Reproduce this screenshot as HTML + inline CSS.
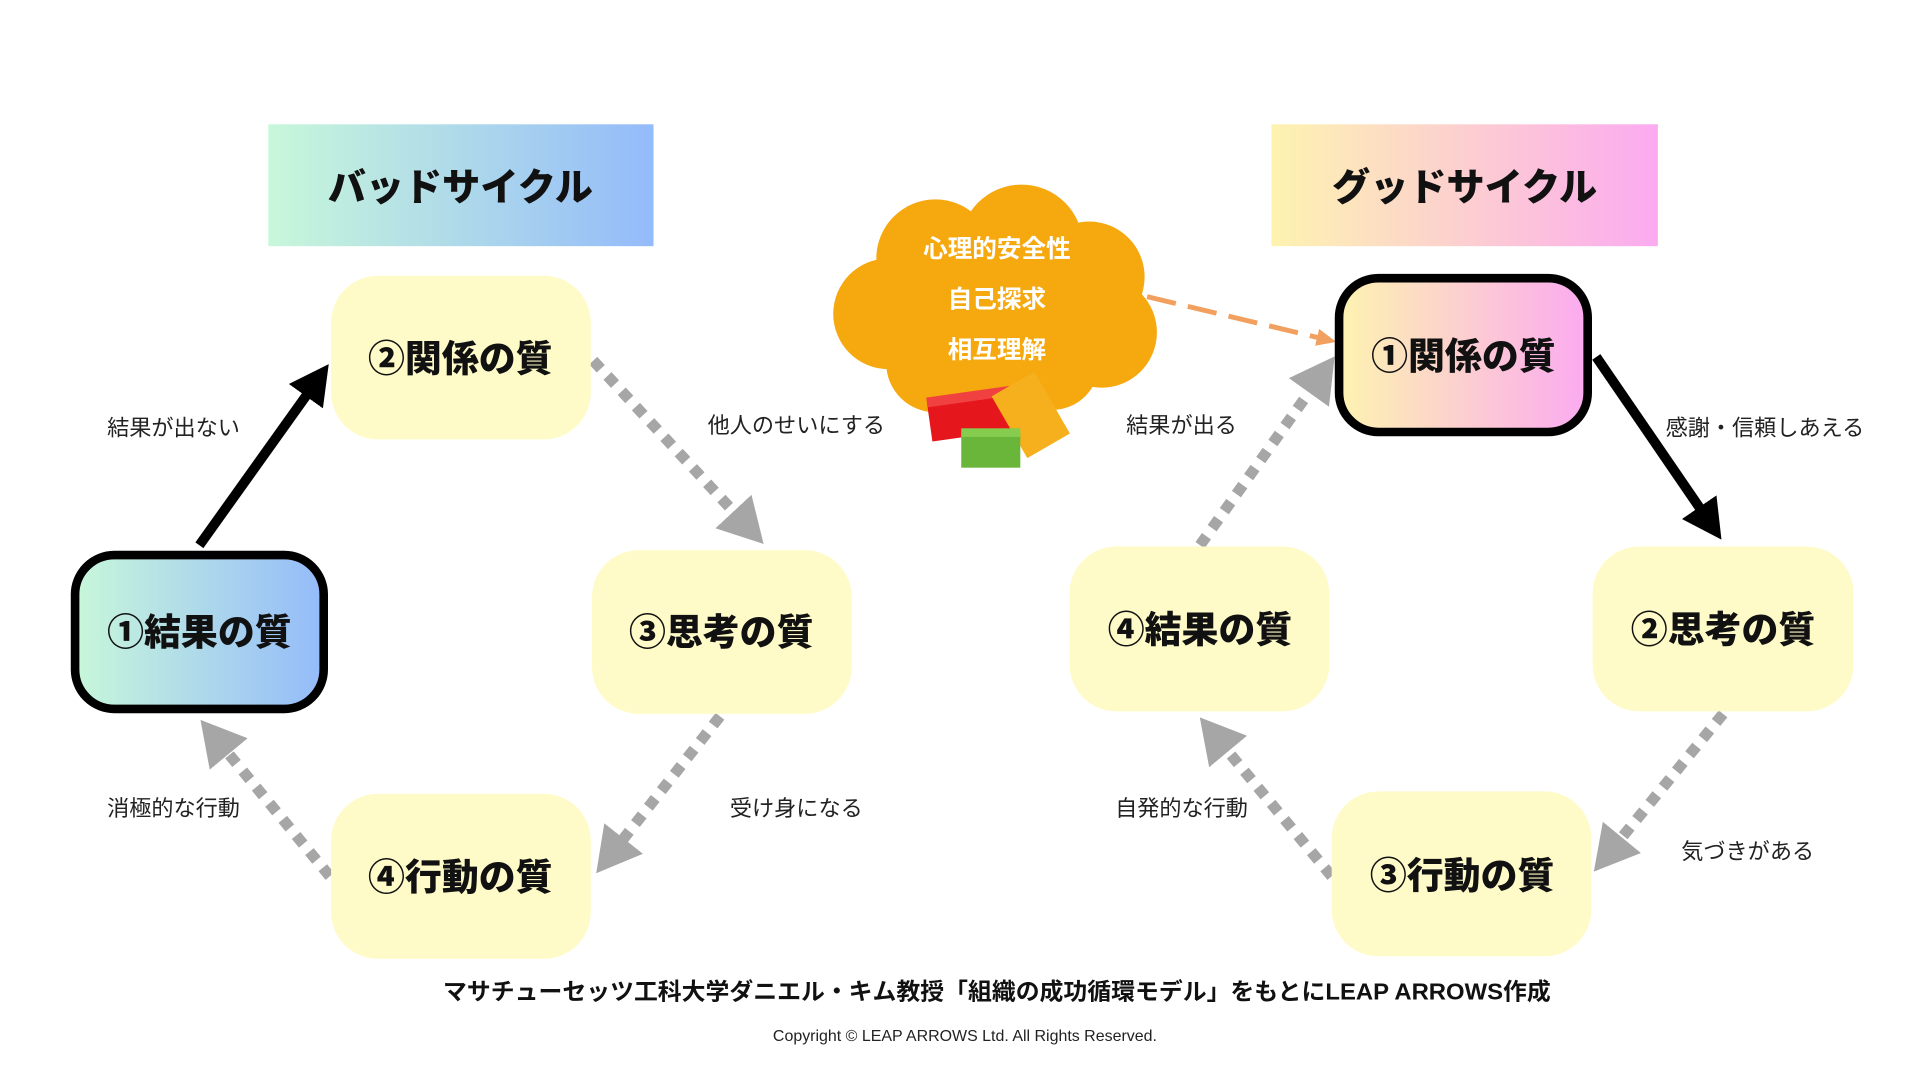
<!DOCTYPE html>
<html><head><meta charset="utf-8"><style>
html,body{margin:0;padding:0;background:#fff;width:1920px;height:1080px;overflow:hidden}
svg{display:block}
text{font-family:"Liberation Sans","Noto Sans CJK JP",sans-serif}
.n{font-size:30px;font-weight:900;fill:#111;text-anchor:middle}
.l{font-size:18px;fill:#222;text-anchor:middle}
.t{font-size:31px;font-weight:900;fill:#111;text-anchor:middle}
.c{font-size:20px;font-weight:700;fill:#fff;text-anchor:middle}
</style></head><body>
<svg width="1920" height="1080" viewBox="0 0 1560 877.5" xmlns="http://www.w3.org/2000/svg">
<defs>
<linearGradient id="gb" x1="0" x2="1"><stop offset="0" stop-color="#c8f7da"/><stop offset="1" stop-color="#94bbfa"/></linearGradient>
<linearGradient id="gg" x1="0" x2="1"><stop offset="0" stop-color="#fdf3b0"/><stop offset="1" stop-color="#fbaaf0"/></linearGradient>
<marker id="ag" markerUnits="userSpaceOnUse" markerWidth="40" markerHeight="44" refX="6" refY="22" orient="auto"><path d="M0,2 L36,22 L0,42 Z" fill="#a6a6a6"/></marker>
<marker id="ak" markerUnits="userSpaceOnUse" markerWidth="40" markerHeight="40" refX="6" refY="20" orient="auto"><path d="M0,3 L32,20 L0,37 Z" fill="#000"/></marker>
<marker id="ao" markerUnits="userSpaceOnUse" markerWidth="20" markerHeight="20" refX="4" refY="10" orient="auto"><path d="M0,3 L16,10 L0,17 Z" fill="#f2a05f"/></marker>
</defs>
<!-- titles -->
<rect x="218" y="101" width="313" height="99" fill="url(#gb)"/>
<text class="t" x="374" y="163">バッドサイクル</text>
<rect x="1033" y="101" width="314" height="99" fill="url(#gg)"/>
<text class="t" x="1190" y="163">グッドサイクル</text>
<!-- connectors left -->
<line x1="162" y1="443" x2="252" y2="317" stroke="#000" stroke-width="8" marker-end="url(#ak)"/>
<line x1="482" y1="293" x2="600" y2="420" stroke="#a6a6a6" stroke-width="9" stroke-dasharray="9 8" marker-end="url(#ag)"/>
<line x1="585" y1="582" x2="503" y2="686" stroke="#a6a6a6" stroke-width="9" stroke-dasharray="9 8" marker-end="url(#ag)"/>
<line x1="268" y1="712" x2="182" y2="608" stroke="#a6a6a6" stroke-width="9" stroke-dasharray="9 8" marker-end="url(#ag)"/>
<!-- connectors right -->
<line x1="975" y1="443" x2="1067" y2="314" stroke="#a6a6a6" stroke-width="9" stroke-dasharray="9 8" marker-end="url(#ag)"/>
<line x1="1297" y1="290" x2="1384" y2="417" stroke="#000" stroke-width="8" marker-end="url(#ak)"/>
<line x1="1400" y1="580" x2="1314" y2="685" stroke="#a6a6a6" stroke-width="9" stroke-dasharray="9 8" marker-end="url(#ag)"/>
<line x1="1082" y1="712" x2="994" y2="606" stroke="#a6a6a6" stroke-width="9" stroke-dasharray="9 8" marker-end="url(#ag)"/>
<line x1="932" y1="241" x2="1074" y2="275" stroke="#f2a05f" stroke-width="4" stroke-dasharray="24 10" marker-end="url(#ao)"/>
<!-- nodes left -->
<rect x="269" y="224" width="211" height="133" rx="38" fill="#fffbc8"/>
<text class="n" x="374" y="302">②関係の質</text>
<rect x="61" y="451" width="202" height="125" rx="32" fill="url(#gb)" stroke="#000" stroke-width="7"/>
<text class="n" x="162" y="524">①結果の質</text>
<rect x="481" y="447" width="211" height="133" rx="38" fill="#fffbc8"/>
<text class="n" x="586" y="524">③思考の質</text>
<rect x="269" y="645" width="211" height="134" rx="38" fill="#fffbc8"/>
<text class="n" x="374" y="723">④行動の質</text>
<!-- nodes right -->
<rect x="1088" y="226" width="202" height="125" rx="32" fill="url(#gg)" stroke="#000" stroke-width="7"/>
<text class="n" x="1189" y="300">①関係の質</text>
<rect x="869" y="444" width="211" height="134" rx="38" fill="#fffbc8"/>
<text class="n" x="975" y="522">④結果の質</text>
<rect x="1294" y="444" width="212" height="134" rx="38" fill="#fffbc8"/>
<text class="n" x="1400" y="522">②思考の質</text>
<rect x="1082" y="643" width="211" height="134" rx="38" fill="#fffbc8"/>
<text class="n" x="1188" y="722">③行動の質</text>
<!-- labels -->
<text class="l" x="141" y="354">結果が出ない</text>
<text class="l" x="647" y="352">他人のせいにする</text>
<text class="l" x="141" y="663">消極的な行動</text>
<text class="l" x="647" y="663">受け身になる</text>
<text class="l" x="960" y="352">結果が出る</text>
<text class="l" x="1434" y="354">感謝・信頼しあえる</text>
<text class="l" x="960" y="663">自発的な行動</text>
<text class="l" x="1420" y="698">気づきがある</text>
<!-- cloud -->
<g fill="#f6a80f">
<circle cx="760" cy="210" r="48"/><circle cx="830" cy="200" r="50"/><circle cx="885" cy="225" r="45"/>
<circle cx="722" cy="255" r="45"/><circle cx="895" cy="270" r="45"/><circle cx="800" cy="285" r="48"/><circle cx="760" cy="295" r="40"/><circle cx="855" cy="295" r="38"/>
<ellipse cx="810" cy="245" rx="110" ry="70"/>
</g>
<text class="c" x="810" y="209">心理的安全性</text>
<text class="c" x="810" y="250">自己探求</text>
<text class="c" x="810" y="291">相互理解</text>
<!-- bricks -->
<g transform="rotate(-8 790 338)"><rect x="755" y="322" width="70" height="32" fill="#e5171d"/><rect x="755" y="318" width="70" height="8" fill="#f04040"/></g>
<g transform="rotate(-30 838 338)"><rect x="818" y="308" width="40" height="58" fill="#f6b01e"/></g>
<rect x="781" y="352" width="48" height="28" fill="#6ab63a"/><rect x="781" y="348" width="48" height="7" fill="#86cc4e"/>
<!-- footer -->
<text x="810" y="812" text-anchor="middle" font-size="19" font-weight="700" fill="#111" textLength="900" lengthAdjust="spacingAndGlyphs">マサチューセッツ工科大学ダニエル・キム教授「組織の成功循環モデル」をもとにLEAP ARROWS作成</text>
<text x="784" y="846" text-anchor="middle" font-size="13" fill="#222" textLength="312" lengthAdjust="spacingAndGlyphs">Copyright © LEAP ARROWS Ltd. All Rights Reserved.</text>
</svg>
</body></html>
